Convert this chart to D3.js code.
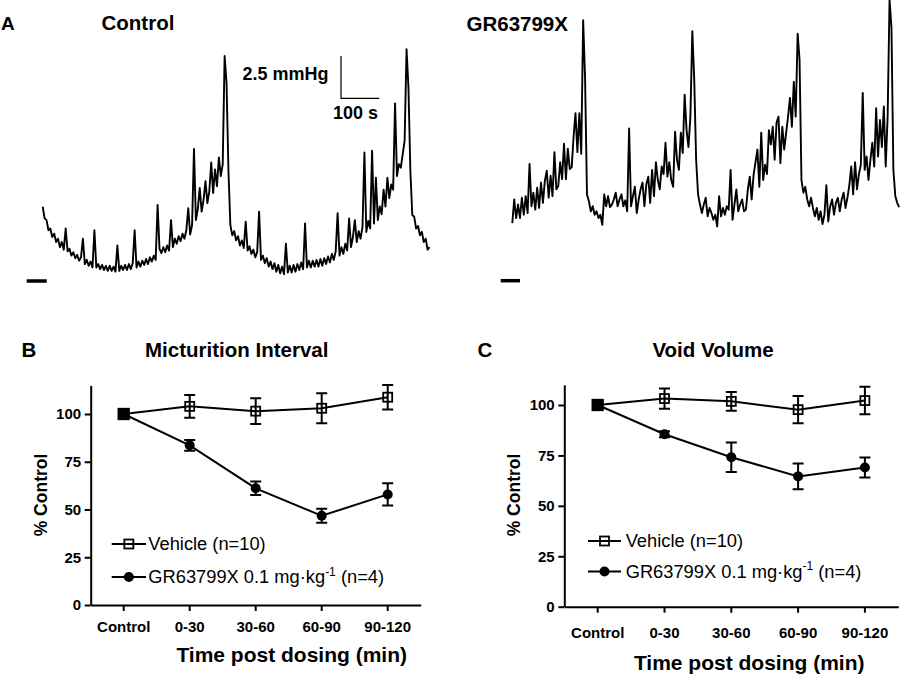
<!DOCTYPE html>
<html><head><meta charset="utf-8">
<script src="https://cdn.jsdelivr.net/npm/d3@7"></script>
<style>body{margin:0;background:#fff} svg{display:block}</style>
</head><body><svg id="chart" width="900" height="676"></svg>
<script>
// ---------- DATA ----------
// Panel A: bladder pressure traces (mmHg above baseline mark), one sample every 5 s
const sampleInterval = 5;
const controlTrace = [4.4,3.7,3.6,3.0,3.1,2.6,2.8,2.3,2.5,2.0, 2.3,1.85,3.1,1.75,1.9,1.5,1.7,1.35,1.55,1.2, 1.4,2.5,1.0,1.25,0.9,1.15,0.8,3.0,0.8,1.0, 0.7,0.95,0.65,0.9,0.6,0.9,0.6,0.85,0.55,2.1, 0.6,0.9,0.65,0.95,0.65,1.0,0.7,1.05,3.0,0.8, 1.15,0.85,1.2,0.95,1.3,1.0,1.4,1.15,1.5,1.25, 4.5,1.9,1.65,2.0,1.7,2.1,1.8,3.6,2.0,2.5, 2.2,2.65,2.35,2.8,2.5,3.0,4.3,2.75,3.3,7.8, 3.6,4.25,5.5,4.1,4.8,5.9,4.6,5.3,7.0,5.2, 6.6,5.6,7.3,6.2,6.9,13.3,11.7,6.5,3.3,2.7, 2.95,2.4,2.65,2.1,2.4,1.95,3.5,1.8,2.05,1.6, 1.85,1.4,1.7,4.1,1.25,1.5,1.05,1.35,0.85,1.15, 0.7,1.05,0.55,0.95,0.45,0.85,0.4,2.2,0.5,0.9, 0.5,0.95,0.55,1.0,0.65,1.1,0.7,3.4,0.8,1.2, 0.8,1.2,0.85,1.25,0.85,1.3,0.9,1.35,1.0,1.45, 1.1,1.6,1.25,1.75,4.0,1.5,2.0,1.6,2.2,1.8, 3.7,2.0,2.6,3.6,2.3,2.95,2.5,3.2,7.6,2.9, 3.55,3.1,7.7,3.4,6.1,3.6,4.4,3.95,5.4,4.4, 6.1,4.9,5.7,5.4,10.5,6.2,6.9,6.7,7.5,8.3, 13.7,11.4,6.5,3.9,3.8,3.1,3.25,2.7,2.9,2.3, 2.5,1.85,2.0];
const grTrace = [3.4,4.8,3.7,4.5,3.7,4.9,3.9,5.0,4.0,6.9, 4.4,5.2,4.2,5.5,4.3,5.8,4.6,5.9,6.5,4.9, 6.2,5.0,7.6,5.4,5.6,7.0,6.0,8.1,6.0,7.8, 6.6,6.7,8.5,9.9,7.6,9.9,7.5,15.4,12.0,5.1, 4.7,4.1,4.4,3.9,4.1,3.7,3.9,3.3,5.1,4.4, 5.0,4.35,4.5,4.8,5.2,4.4,4.8,5.1,4.4,4.75, 4.1,9.0,4.4,5.0,5.55,4.0,4.8,5.4,5.8,4.4, 5.7,6.15,4.6,6.55,5.0,7.0,5.95,5.4,6.75,6.3, 8.15,6.15,7.0,5.95,5.55,8.8,7.15,6.55,8.75,7.55, 11.0,8.9,7.9,9.7,14.75,11.9,7.15,5.1,4.5,4.0, 4.5,4.9,3.8,4.3,4.0,3.6,3.9,3.2,5.0,3.8, 4.3,3.9,4.4,4.2,6.55,3.6,4.5,5.4,4.1,4.5, 4.8,4.1,4.2,5.4,6.15,4.8,6.25,7.0,7.75,5.55, 8.75,5.95,6.85,6.3,8.9,8.05,9.1,7.15,9.35,9.7, 6.95,9.1,7.75,8.75,9.7,10.8,9.1,11.75,9.7,14.6, 13.05,5.95,5.2,5.55,4.8,4.4,4.9,4.3,3.8,4.3, 3.6,4.1,3.35,3.9,5.65,3.5,4.4,4.8,3.9,4.6, 4.9,4.1,4.8,5.2,4.3,4.9,5.65,6.75,5.1,7.0, 5.4,6.3,6.85,11.1,6.55,7.35,5.95,7.15,8.15,6.75, 10.2,7.35,9.5,7.9,10.3,6.75,9.7,16.6,14.95,6.55, 5.0,4.6,4.35];
const scaleBarPressure = 2.5;   // mmHg
const scaleBarTime = 100;       // s

// Panels B and C
const categories = ["Control", "0-30", "30-60", "60-90", "90-120"];
const yTicks = [0, 25, 50, 75, 100];
const miVehicle    = [100, 104.0, 101.5, 103.0, 108.8];
const miVehicleErr = [0, 6.0, 6.7, 7.8, 6.4];
const miGR         = [100, 83.6, 61.1, 46.7, 57.9];
const miGRErr      = [0, 2.8, 3.5, 3.7, 5.8];
const vvVehicle    = [100, 103.2, 101.8, 97.7, 102.2];
const vvVehicleErr = [0, 5.0, 4.6, 6.8, 6.8];
const vvGR         = [100, 85.5, 74.1, 64.6, 69.0];
const vvGRErr      = [0, 1.5, 7.3, 6.4, 5.0];
const legendLabels = ["Vehicle (n=10)", "GR63799X 0.1 mg·kg", "-1", " (n=4)"];

// ---------- DRAWING ----------
const FONT = '"Liberation Sans", Arial, Helvetica, sans-serif';
const svg = d3.select("#chart");
svg.append("rect").attr("width",900).attr("height",676).attr("fill","#fff");

function txt(g, x, y, s, size, bold, anchor) {
  return g.append("text").attr("x", x).attr("y", y).text(s)
    .attr("font-family", FONT).attr("font-size", size)
    .attr("font-weight", bold ? "bold" : "normal")
    .attr("text-anchor", anchor || "start").attr("fill", "#000");
}

// ----- Panel A -----
const gA = svg.append("g");
txt(gA, 1, 30, "A", 19, true);
txt(gA, 101.5, 29.5, "Control", 20.5, true);
txt(gA, 466.5, 30.5, "GR63799X", 20.5, true);

const secPx = 0.383, mmHgPx = 16.92;
function drawTrace(data, x0, yBase, markFrom, markTo) {
  const x = d3.scaleLinear().domain([0, 100]).range([x0, x0 + 100 * secPx]);
  const y = d3.scaleLinear().domain([0, 2.5]).range([yBase, yBase - 2.5 * mmHgPx]);
  const line = d3.line().x((d, i) => x(i * sampleInterval)).y(d => y(d));
  gA.append("path").datum(data).attr("d", line)
    .attr("fill", "none").attr("stroke", "#000").attr("stroke-width", 1.9)
    .attr("stroke-linejoin", "round");
  // baseline (zero) mark
  gA.append("line").attr("x1", x0 + markFrom).attr("x2", x0 + markTo)
    .attr("y1", y(0)).attr("y2", y(0)).attr("stroke", "#000").attr("stroke-width", 3.5);
  return {x, y};
}
const ctl = drawTrace(controlTrace, 42.7, 281, -16, 4);
drawTrace(grTrace, 512.3, 280.7, -11.6, 7.7);

// scale bar (drawn with the control trace scales)
const sbX = 341, sbY = 98.3;
const sbW = ctl.x(scaleBarTime) - ctl.x(0);
const sbH = ctl.y(0) - ctl.y(scaleBarPressure);
gA.append("path").attr("d", `M${sbX},${sbY - sbH}V${sbY}H${sbX + sbW}`)
  .attr("fill", "none").attr("stroke", "#000").attr("stroke-width", 1.2);
txt(gA, 328.5, 80, scaleBarPressure + " mmHg", 18, true, "end");
txt(gA, 333, 119, scaleBarTime + " s", 18, true);

// ----- Panels B & C -----
function drawPanel(cfg) {
  const g = svg.append("g");
  const x = d3.scaleBand().domain(categories).range(cfg.xRange).padding(0);
  const y = d3.scaleLinear().domain([0, cfg.yMax]).range([cfg.y0, cfg.y0 - cfg.yMax * cfg.pxPerUnit]);
  const cx = c => x(c) + x.bandwidth() / 2;

  const yAxis = g.append("g").attr("transform", `translate(${cfg.xRange[0]},0)`)
    .call(d3.axisLeft(y).tickValues(yTicks).tickSize(6).tickSizeOuter(0).tickPadding(3.6));
  const xAxis = g.append("g").attr("transform", `translate(0,${cfg.y0})`)
    .call(d3.axisBottom(x).tickSize(6).tickSizeOuter(0).tickPadding(cfg.xPad));
  [yAxis, xAxis].forEach(a => {
    a.selectAll("path,line").attr("stroke", "#000").attr("stroke-width", 2);
    a.selectAll("text").attr("font-family", FONT).attr("font-size", 15)
      .attr("font-weight", "bold").attr("fill", "#000");
  });

  // titles
  txt(g, cfg.letterX, 356.7, cfg.letter, 20.5, true);
  txt(g, cfg.titleX, 357, cfg.title, 20.5, true, "middle");
  txt(g, cfg.xTitleX, cfg.xTitleY, "Time post dosing (min)", 21, true, "middle");
  g.append("text").attr("transform", `translate(${cfg.yLabelX},495) rotate(-90)`)
    .attr("text-anchor", "middle").attr("font-family", FONT).attr("font-size", 17.5)
    .attr("font-weight", "bold").text("% Control");

  const line = d3.line().x((d, i) => cx(categories[i])).y(d => y(d));
  [cfg.veh, cfg.gr].forEach(vals => {
    g.append("path").datum(vals).attr("d", line).attr("fill", "none")
      .attr("stroke", "#000").attr("stroke-width", 2);
  });
  // error bars
  [[cfg.veh, cfg.vehErr], [cfg.gr, cfg.grErr]].forEach(([vals, errs]) => {
    vals.forEach((v, i) => {
      if (!errs[i]) return;
      const xc = cx(categories[i]), yt = y(v + errs[i]), yb = y(v - errs[i]);
      g.append("path").attr("d", `M${xc},${yt}V${yb}M${xc - 5.5},${yt}H${xc + 5.5}M${xc - 5.5},${yb}H${xc + 5.5}`)
        .attr("stroke", "#000").attr("stroke-width", 2).attr("fill", "none");
    });
  });
  // markers
  cfg.gr.forEach((v, i) => {
    g.append("circle").attr("cx", cx(categories[i])).attr("cy", y(v)).attr("r", 5).attr("fill", "#000");
  });
  cfg.veh.forEach((v, i) => {
    const same = v === cfg.gr[i];
    const s = same ? 10.5 : 9;
    g.append("rect").attr("x", cx(categories[i]) - s / 2).attr("y", y(v) - s / 2)
      .attr("width", s).attr("height", s)
      .attr("fill", same ? "#000" : "none").attr("stroke", "#000").attr("stroke-width", 1.8);
  });

  // legend
  const [l0, l1] = cfg.legendLine, lm = (l0 + l1) / 2;
  cfg.legendY.forEach((ly, k) => {
    g.append("line").attr("x1", l0).attr("x2", l1).attr("y1", ly).attr("y2", ly)
      .attr("stroke", "#000").attr("stroke-width", 2);
    if (k === 0) {
      g.append("rect").attr("x", lm - 4.5).attr("y", ly - 4.5).attr("width", 9).attr("height", 9)
        .attr("fill", "none").attr("stroke", "#000").attr("stroke-width", 1.8);
      txt(g, cfg.legendTextX, ly + 6.4, legendLabels[0], 18.3, false);
    } else {
      g.append("circle").attr("cx", lm).attr("cy", ly).attr("r", 5).attr("fill", "#000");
      const t = txt(g, cfg.legendTextX, ly + 6.4, legendLabels[1], 18.3, false);
      t.append("tspan").attr("dy", -7.5).attr("font-size", 12).text(legendLabels[2]);
      t.append("tspan").attr("dy", 7.5).attr("font-size", 18.3).text(legendLabels[3]);
    }
  });
}

drawPanel({
  xRange: [90.7, 420.7], y0: 605, yMax: 115, pxPerUnit: 1.91, xPad: 10.3,
  veh: miVehicle, vehErr: miVehicleErr, gr: miGR, grErr: miGRErr,
  letter: "B", letterX: 21.5, title: "Micturition Interval", titleX: 236.7,
  xTitleX: 291.7, xTitleY: 661.7, yLabelX: 46.7,
  legendLine: [111.7, 146], legendY: [544, 577], legendTextX: 148.3
});
drawPanel({
  xRange: [564.3, 898.3], y0: 606.7, yMax: 110, pxPerUnit: 2.017, xPad: 15,
  veh: vvVehicle, vehErr: vvVehicleErr, gr: vvGR, grErr: vvGRErr,
  letter: "C", letterX: 477.5, title: "Void Volume", titleX: 713,
  xTitleX: 749.2, xTitleY: 670, yLabelX: 520,
  legendLine: [588, 621], legendY: [541, 571.5], legendTextX: 625.7
});
</script>
</body></html>
